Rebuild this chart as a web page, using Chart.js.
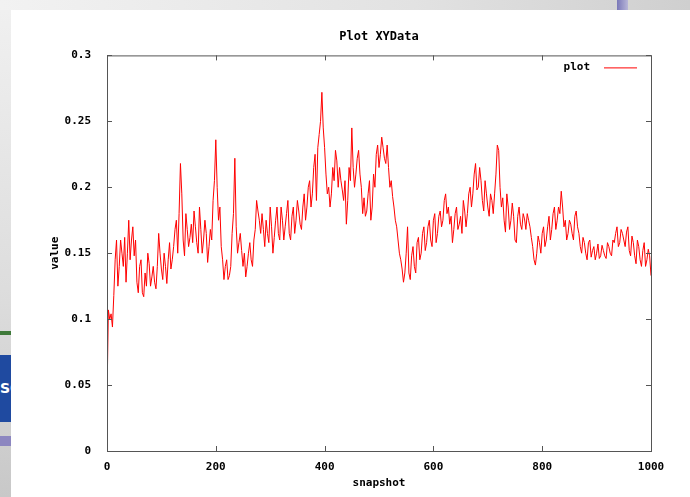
<!DOCTYPE html>
<html>
<head>
<meta charset="utf-8">
<script src="https://cdn.jsdelivr.net/npm/chart.js@4/dist/chart.umd.min.js"></script>
<style>
  html, body { margin: 0; padding: 0; }
  body { width: 690px; height: 497px; position: relative; overflow: hidden;
         background: linear-gradient(to right, #e4e4e4, #d6d6d6); }
  #topstrip { position: absolute; left: 0; top: 0; width: 690px; height: 10px;
              background: linear-gradient(to right, #f2f2f2, #e2e2e2 60%, #cfcfcf); }
  #bluebar { position: absolute; left: 617px; top: 0; width: 11px; height: 10px;
             background: linear-gradient(to right, #7a78b8, #b8b6d8); }
  #leftstrip { position: absolute; left: 0; top: 10px; width: 11px; height: 487px;
               background: linear-gradient(to bottom, #f0f0f0, #dcdcdc 60%, #c8c8c8); }
  #green { position: absolute; left: 0; top: 331px; width: 11px; height: 4px; background: #3f7a3a; }
  #logo { position: absolute; left: 0; top: 355px; width: 11px; height: 67px; background: #1f4aa0;
          color: #fff; font: bold 14px "DejaVu Sans"; overflow: hidden; line-height: 67px; }
  #lav { position: absolute; left: 0; top: 436px; width: 11px; height: 10px; background: #8c86c0; }
  #panel { position: absolute; left: 11px; top: 10px; width: 679px; height: 487px; background: #fff; }
</style>
</head>
<body>
<div id="topstrip"></div><div id="bluebar"></div>
<div id="leftstrip"></div><div id="green"></div>
<div id="logo">SO</div><div id="lav"></div>
<div id="panel"><canvas id="chart" width="679" height="487"></canvas></div>
<script>
// values at snapshots 0, 5, 10, ... 1000
const values = [
  0.040, 0.100, 0.094, 0.145, 0.125, 0.160, 0.140, 0.128, 0.175, 0.160,
  0.148, 0.128, 0.140, 0.120, 0.135, 0.150, 0.125, 0.140, 0.123, 0.165,
  0.138, 0.150, 0.127, 0.158, 0.145, 0.168, 0.150, 0.218, 0.160, 0.180,
  0.155, 0.172, 0.182, 0.158, 0.185, 0.150, 0.175, 0.143, 0.168, 0.190,
  0.236, 0.175, 0.155, 0.130, 0.145, 0.133, 0.165, 0.222, 0.150, 0.165,
  0.140, 0.132, 0.150, 0.145, 0.160, 0.190, 0.175, 0.180, 0.155, 0.165,
  0.185, 0.150, 0.175, 0.165, 0.185, 0.160, 0.180, 0.165, 0.178, 0.165,
  0.190, 0.172, 0.185, 0.175, 0.200, 0.185, 0.215, 0.190, 0.240, 0.272,
  0.230, 0.195, 0.185, 0.215, 0.228, 0.200, 0.205, 0.190, 0.172, 0.215,
  0.245, 0.200, 0.222, 0.210, 0.180, 0.178, 0.195, 0.175, 0.210, 0.225,
  0.215, 0.238, 0.222, 0.232, 0.200, 0.193, 0.175, 0.160, 0.145, 0.128,
  0.150, 0.135, 0.148, 0.140, 0.158, 0.145, 0.165, 0.152, 0.170, 0.160,
  0.175, 0.158, 0.178, 0.170, 0.190, 0.180, 0.172, 0.158, 0.180, 0.168,
  0.178, 0.190, 0.170, 0.195, 0.185, 0.210, 0.198, 0.215, 0.190, 0.205,
  0.185, 0.195, 0.180, 0.210, 0.228, 0.185, 0.175, 0.195, 0.168, 0.188,
  0.160, 0.178, 0.172, 0.180, 0.168, 0.175, 0.162, 0.145, 0.150, 0.158,
  0.165, 0.155, 0.170, 0.160, 0.180, 0.168, 0.185, 0.197, 0.170, 0.160,
  0.175, 0.165, 0.178, 0.170, 0.155, 0.162, 0.150, 0.158, 0.147, 0.155,
  0.150, 0.146, 0.156, 0.148, 0.158, 0.150, 0.160, 0.165, 0.155, 0.168,
  0.160, 0.166, 0.152, 0.163, 0.148, 0.160, 0.145, 0.152, 0.140, 0.153,
  0.133
]
// values at snapshots 2.5, 7.5, ... 997.5 (the other edge of the noise)
const midValues = [
  0.107, 0.104, 0.118, 0.160, 0.140, 0.150, 0.162, 0.150, 0.145, 0.170,
  0.160, 0.120, 0.145, 0.117, 0.125, 0.142, 0.132, 0.128, 0.140, 0.150,
  0.130, 0.140, 0.145, 0.138, 0.155, 0.175, 0.180, 0.195, 0.148, 0.168,
  0.162, 0.158, 0.170, 0.150, 0.168, 0.160, 0.165, 0.155, 0.160, 0.205,
  0.200, 0.185, 0.145, 0.140, 0.130, 0.140, 0.180, 0.170, 0.158, 0.152,
  0.150, 0.140, 0.158, 0.140, 0.168, 0.182, 0.165, 0.168, 0.175, 0.158,
  0.170, 0.162, 0.185, 0.160, 0.175, 0.170, 0.190, 0.160, 0.185, 0.175,
  0.182, 0.168, 0.195, 0.185, 0.205, 0.195, 0.225, 0.230, 0.250, 0.245,
  0.210, 0.200, 0.195, 0.205, 0.220, 0.215, 0.198, 0.205, 0.190, 0.205,
  0.215, 0.210, 0.228, 0.200, 0.192, 0.182, 0.205, 0.185, 0.200, 0.232,
  0.225, 0.230, 0.218, 0.215, 0.205, 0.185, 0.170, 0.150, 0.138, 0.135,
  0.170, 0.130, 0.155, 0.135, 0.162, 0.150, 0.170, 0.158, 0.175, 0.155,
  0.180, 0.165, 0.182, 0.175, 0.195, 0.185, 0.178, 0.168, 0.185, 0.172,
  0.165, 0.182, 0.180, 0.200, 0.195, 0.218, 0.200, 0.205, 0.182, 0.195,
  0.178, 0.190, 0.195, 0.232, 0.200, 0.192, 0.166, 0.185, 0.175, 0.178,
  0.158, 0.185, 0.168, 0.176, 0.180, 0.170, 0.155, 0.141, 0.163, 0.150,
  0.170, 0.160, 0.178, 0.168, 0.185, 0.175, 0.180, 0.185, 0.175, 0.165,
  0.172, 0.160, 0.182, 0.165, 0.150, 0.158, 0.145, 0.160, 0.152, 0.145,
  0.157, 0.148, 0.152, 0.146, 0.155, 0.148, 0.158, 0.170, 0.158, 0.165,
  0.155, 0.170, 0.148, 0.158, 0.142, 0.155, 0.140, 0.158, 0.145, 0.148
]
const step = 5
const xTicks = [0, 200, 400, 600, 800, 1000]
const yTicks = [0, 0.05, 0.1, 0.15, 0.2, 0.25, 0.3]

// interleave both readings into one x/y table for the line
const points = []
values.forEach((v, i) => {
  points.push({x: i * step, y: v})
  if (i < midValues.length) points.push({x: i * step + step / 2, y: midValues[i]})
})

const monoBold = {family: '"DejaVu Sans Mono"', size: 11, weight: 'bold'}
const axisColor = '#555555'

// gnuplot style frame: full box with inward ticks on every side, plus the key
const framePlugin = {
  id: 'frame',
  afterDatasetsDraw(chart) {
    const {ctx, chartArea: a, scales: {x, y}} = chart
    const t = 5
    ctx.save()
    ctx.strokeStyle = axisColor
    ctx.lineWidth = 1
    ctx.strokeRect(a.left + 0.5, a.top + 0.5, a.right - a.left, a.bottom - a.top)
    ctx.beginPath()
    xTicks.forEach(v => {
      const px = Math.round(x.getPixelForValue(v)) + 0.5
      ctx.moveTo(px, a.bottom); ctx.lineTo(px, a.bottom - t)
      ctx.moveTo(px, a.top); ctx.lineTo(px, a.top + t)
    })
    yTicks.forEach(v => {
      const py = Math.round(y.getPixelForValue(v)) + 0.5
      ctx.moveTo(a.left, py); ctx.lineTo(a.left + t, py)
      ctx.moveTo(a.right, py); ctx.lineTo(a.right - t, py)
    })
    ctx.stroke()
    // key
    const ds = chart.data.datasets[0]
    ctx.font = 'bold 11px "DejaVu Sans Mono"'
    ctx.fillStyle = '#000'
    ctx.textAlign = 'right'
    ctx.textBaseline = 'middle'
    ctx.fillText(ds.label, a.right - 61, a.top + 12)
    ctx.strokeStyle = ds.borderColor
    ctx.beginPath()
    ctx.moveTo(a.right - 47, a.top + 12.5); ctx.lineTo(a.right - 14, a.top + 12.5)
    ctx.stroke()
    ctx.restore()
  }
}

new Chart(document.getElementById('chart'), {
  type: 'line',
  data: {
    datasets: [{
      label: 'plot',
      data: points,
      borderColor: '#ff0000',
      borderWidth: 1,
      pointRadius: 0,
      tension: 0
    }]
  },
  options: {
    responsive: false,
    animation: false,
    layout: {padding: {left: 0, right: 39, top: 0, bottom: 0}},
    plugins: {
      legend: {display: false},
      tooltip: {enabled: false},
      title: {
        display: true, text: 'Plot XYData', color: '#000', fullSize: false,
        font: {family: '"DejaVu Sans Mono"', size: 12, weight: 'bold'},
        padding: {top: 20, bottom: 11}
      }
    },
    scales: {
      x: {
        type: 'linear', min: 0, max: 1000,
        afterFit: s => { s.height = 46 },
        afterBuildTicks: s => { s.ticks = xTicks.map(v => ({value: v})) },
        grid: {display: false},
        border: {display: false},
        ticks: {color: '#000', font: monoBold, padding: 2, maxRotation: 0, callback: v => String(v)},
        title: {display: true, text: 'snapshot', color: '#000', font: monoBold, padding: {top: 7, bottom: 7}}
      },
      y: {
        min: 0, max: 0.3,
        afterFit: s => { s.width = 96 },
        afterBuildTicks: s => { s.ticks = yTicks.map(v => ({value: v})) },
        grid: {display: false},
        border: {display: false},
        ticks: {color: '#000', font: monoBold, padding: 8, callback: v => String(+v.toFixed(2))},
        title: {display: true, text: 'value', color: '#000', font: monoBold, padding: {top: 38, bottom: 0}}
      }
    }
  },
  plugins: [framePlugin]
})
</script>
</body>
</html>
